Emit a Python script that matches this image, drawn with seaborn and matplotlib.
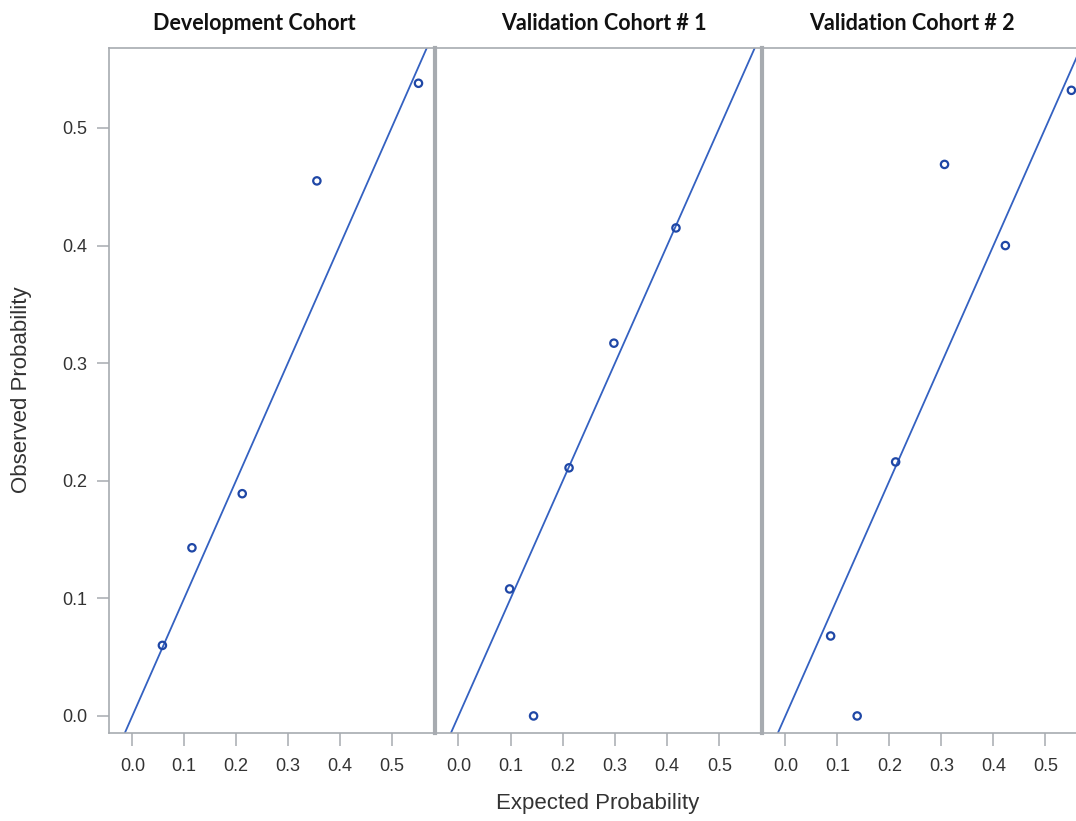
import pandas as pd
import matplotlib.pyplot as plt
import seaborn as sns

# Calibration points (expected vs observed probability)
cohorts = ['Development Cohort', 'Validation Cohort # 1', 'Validation Cohort # 2']

dev_expected = [0.058, 0.115, 0.212, 0.356, 0.552]
dev_observed = [0.060, 0.143, 0.189, 0.455, 0.538]

val1_expected = [0.098, 0.144, 0.212, 0.298, 0.417]
val1_observed = [0.108, 0.000, 0.211, 0.317, 0.415]

val2_expected = [0.087, 0.138, 0.212, 0.306, 0.423, 0.550]
val2_observed = [0.068, 0.000, 0.216, 0.469, 0.400, 0.532]

x_ticks = [0.0, 0.1, 0.2, 0.3, 0.4, 0.5]
y_ticks = [0.0, 0.1, 0.2, 0.3, 0.4, 0.5]

df = pd.concat([
    pd.DataFrame({'Cohort': cohorts[0], 'Expected': dev_expected, 'Observed': dev_observed}),
    pd.DataFrame({'Cohort': cohorts[1], 'Expected': val1_expected, 'Observed': val1_observed}),
    pd.DataFrame({'Cohort': cohorts[2], 'Expected': val2_expected, 'Observed': val2_observed}),
])

sns.set_style('white')
plt.rcParams['font.family'] = ['Liberation Sans', 'DejaVu Sans']

line_color = '#3461c1'
marker_color = '#1f47a6'
frame_color = '#a7abb0'
text_color = '#333333'

fig, axes = plt.subplots(1, 3, figsize=(10.76, 8.21), dpi=100)

W, H = 1076, 821
panels = [(109, 433), (435, 761), (762, 1087)]
title_x = [0.448, 0.518, 0.462]   # titles sit a little off-centre in the original
top, bottom = 48, 733

for i, (ax, cohort) in enumerate(zip(axes, cohorts)):
    x0, x1 = panels[i]
    ax.set_position([x0 / W, (H - bottom) / H, (x1 - x0) / W, (bottom - top) / H])
    sub = df[df['Cohort'] == cohort]

    ax.axline((0, 0), slope=1, color=line_color, lw=1.3, zorder=2)
    sns.scatterplot(data=sub, x='Expected', y='Observed', ax=ax, marker='o', s=28,
                    facecolor='none', edgecolor=marker_color, linewidth=1.6, zorder=3)

    ax.set_xlim(-0.045, 0.58)
    ax.set_ylim(-0.0145, 0.568)
    ax.set_xticks(x_ticks)
    ax.set_xticklabels([f'{t:.1f}' for t in x_ticks])
    ax.set_yticks(y_ticks)
    ax.set_yticklabels([f'{t:.1f}' for t in y_ticks])
    ax.tick_params(axis='both', direction='out', length=9, width=1.1, color=frame_color,
                   labelcolor=text_color, labelsize=13)
    ax.tick_params(axis='x', pad=9)
    ax.tick_params(axis='y', pad=6.5)
    ax.tick_params(axis='both', bottom=True, left=(i == 0))
    if i > 0:
        ax.set_yticklabels([])
    ax.set_xlabel('')
    ax.set_ylabel('')

    for side in ['top', 'bottom']:
        ax.spines[side].set_color(frame_color)
        ax.spines[side].set_linewidth(1.2)
    ax.spines['right'].set_visible(False)
    ax.spines['left'].set_color(frame_color)
    ax.spines['left'].set_linewidth(1.2 if i == 0 else 3.0)

    ax.set_title(cohort, fontsize=15.5, fontweight='bold', family=['Lato', 'DejaVu Sans'],
                 color='#111111', pad=13, x=title_x[i])

fig.text(598 / W, 1 - 803 / H, 'Expected Probability', ha='center', va='center',
         fontsize=16, color=text_color)
fig.text(22 / W, 1 - 390 / H, 'Observed Probability', ha='center', va='center',
         rotation=90, fontsize=16, color=text_color)

fig.savefig('out.png', dpi=100, facecolor='white')
